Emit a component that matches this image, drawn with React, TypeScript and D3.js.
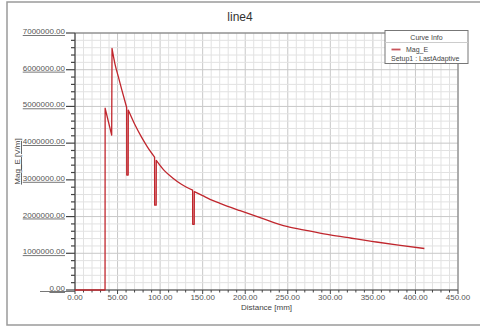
import React from "react";
import * as d3 from "d3";

const title = "line4";
const xTicks = [0, 50, 100, 150, 200, 250, 300, 350, 400, 450];
const yTicks = [0, 1000000, 2000000, 3000000, 4000000, 5000000, 6000000, 7000000];
const seriesName = "Mag_E";
const setupName = "Setup1 : LastAdaptive";

const distance = [
  0, 35.3, 35.4, 43.1, 43.5, 47, 50.9, 55, 60.7, 60.8, 62.5, 62.6, 70, 78, 85,
  93.5, 93.6, 95.4, 95.5, 105, 115.5, 125, 138.2, 138.3, 140.1, 140.2, 150, 158.6,
  170.4, 194, 220, 248.7, 275, 299.6, 325, 350.5, 380, 410.5,
];
const magE = [
  0, 0, 4950000, 4220000, 6580000, 6150000, 5810000, 5450000, 4970000, 3130000, 3130000,
  4900000, 4520000, 4170000, 3900000, 3620000, 2310000, 2310000, 3530000,
  3250000, 3040000, 2880000, 2720000, 1790000, 1790000, 2680000, 2570000, 2470000,
  2360000, 2160000, 1950000, 1730000, 1610000, 1500000, 1410000, 1320000, 1220000, 1130000,
];

const W = 480;
const H = 329;
const L = 75, R = 458, T = 33, B = 290;
const font = "'Liberation Sans', Arial, sans-serif";

export default function App() {
  const x = d3.scaleLinear().domain([0, 450]).range([L, R]);
  const y = d3.scaleLinear().domain([0, 7000000]).range([B, T]);
  const pts = distance.map((d, i) => [d, magE[i]] as [number, number]);
  const smooth = d3
    .line<[number, number]>()
    .x((d) => x(d[0]))
    .y((d) => y(d[1]))
    .curve(d3.curveMonotoneX);

  // split into smooth runs at near-vertical jumps; runs are joined by straight segments
  const runs: [number, number][][] = [];
  let cur: [number, number][] = [pts[0]];
  for (let i = 1; i < pts.length; i++) {
    if (pts[i][0] - pts[i - 1][0] < 1) {
      runs.push(cur);
      cur = [pts[i]];
    } else cur.push(pts[i]);
  }
  runs.push(cur);
  const pathD = runs
    .map((r, i) => {
      const s = smooth(r) || "";
      return i === 0 ? s : "L" + s.slice(1);
    })
    .join("");

  const xMinor = d3.range(0, 451, 10);
  const yMinor = d3.range(0, 7000001, 200000);

  return (
    <svg width={W} height={H} style={{ position: "absolute", left: 0, top: 0, background: "#fff" }} fontFamily={font}>
      <rect x={0} y={0} width={W} height={H} fill="#fff" />
      <rect x={7} y={2} width={474} height={323} fill="none" stroke="#9a9a9a" strokeWidth={1.5} />
      <text x={240} y={21} textAnchor="middle" fontSize={12} fill="#333">{title}</text>

      {xMinor.map((v) => (
        <line key={"gx" + v} x1={x(v)} x2={x(v)} y1={T} y2={B} stroke={v % 50 === 0 ? "#c8c8c8" : "#e2e2e2"} strokeWidth={1} />
      ))}
      {yMinor.map((v) => (
        <line key={"gy" + v} x1={L} x2={R} y1={y(v)} y2={y(v)} stroke={v % 1000000 === 0 ? "#c8c8c8" : "#e2e2e2"} strokeWidth={1} />
      ))}

      <line x1={L} x2={R} y1={T} y2={T} stroke="#777" strokeWidth={1} />
      <line x1={R} x2={R} y1={T} y2={B} stroke="#777" strokeWidth={1} />
      <line x1={L} x2={L} y1={T} y2={B} stroke="#444" strokeWidth={1.2} />
      <line x1={L} x2={R} y1={B} y2={B} stroke="#444" strokeWidth={1.2} />

      {yMinor.map((v) => (
        <line key={"ty" + v} x1={v % 1000000 === 0 ? 66 : 71} x2={L} y1={y(v)} y2={y(v)} stroke="#444" strokeWidth={1.2} />
      ))}
      {yTicks.map((v) => (
        <text key={"ly" + v} x={65} y={y(v) + 1} textAnchor="end" fontSize={8} fill="#555" textDecoration="underline">
          {v.toFixed(2)}
        </text>
      ))}
      <line x1={40} x2={L} y1={B + 1.5} y2={B + 1.5} stroke="#777" strokeWidth={1} />

      {xMinor.map((v) => (
        <line key={"tx" + v} x1={x(v)} x2={x(v)} y1={B} y2={B + (v % 50 === 0 ? 4 : 2.5)} stroke="#444" strokeWidth={1} />
      ))}
      {xTicks.map((v) => (
        <text key={"lx" + v} x={x(v)} y={300} textAnchor="middle" fontSize={8} fill="#555">
          {v.toFixed(2)}
        </text>
      ))}
      <text x={(L + R) / 2} y={310} textAnchor="middle" fontSize={8} fill="#444">Distance [mm]</text>
      <text transform={`translate(20,${(T + B) / 2}) rotate(-90)`} textAnchor="middle" fontSize={8} fill="#444" textDecoration="underline">
        Mag_E [V/m]
      </text>

      <path d={pathD} fill="none" stroke="#c0262d" strokeWidth={1.3} strokeLinejoin="round" />

      <rect x={385} y={30.5} width={83} height={33} fill="#fff" stroke="#777" strokeWidth={1} />
      <line x1={385} x2={468} y1={42.5} y2={42.5} stroke="#ccc" strokeWidth={1} />
      <text x={426.5} y={40} textAnchor="middle" fontSize={7} fill="#444">Curve Info</text>
      <line x1={391.5} x2={400.5} y1={49.5} y2={49.5} stroke="#c9545a" strokeWidth={1.8} />
      <text x={406} y={52} fontSize={7} fill="#444">{seriesName}</text>
      <text x={391} y={61} fontSize={7} fill="#444">{setupName}</text>
    </svg>
  );
}
